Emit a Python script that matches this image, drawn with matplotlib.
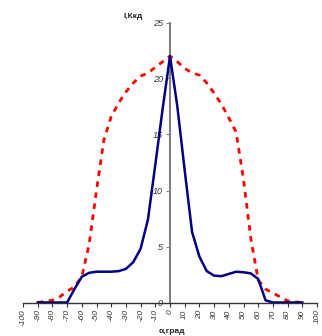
import matplotlib
matplotlib.use("Agg")
import matplotlib.pyplot as plt

plt.rcParams['font.family'] = ['Liberation Sans', 'DejaVu Sans']

angles = [-90, -85, -80, -75, -70, -65, -60, -55, -50, -45, -40, -35, -30, -25, -20, -15, -10, -5,
          0, 5, 10, 15, 20, 25, 30, 35, 40, 45, 50, 55, 60, 65, 70, 75, 80, 85, 90]
intensity_solid = [0, 0, 0, 0, 0, 1.2, 2.3, 2.65, 2.75, 2.75, 2.75, 2.8, 3.0, 3.6, 4.8, 7.4, 12.3, 17.3,
                   22.0, 17.5, 11.8, 6.3, 4.1, 2.8, 2.4, 2.35, 2.55, 2.75, 2.7, 2.6, 2.1, 0.2, 0, 0, 0, 0, 0]
intensity_dashed = [0, 0.1, 0.2, 0.5, 1.0, 1.4, 2.3, 5.2, 10.0, 14.5, 16.6, 17.8, 18.8, 19.6, 20.2, 20.5, 21.0, 21.5,
                    22.0, 21.5, 20.9, 20.5, 20.3, 19.6, 18.7, 17.7, 16.5, 15.2, 11.0, 5.7, 2.0, 1.2, 0.85, 0.5, 0.15, 0.05, 0]
xticks = list(range(-100, 101, 10))
yticks = [0, 5, 10, 15, 20, 25]

W, H = 322, 336
fig = plt.figure(figsize=(W / 100, H / 100), dpi=100)
ax = fig.add_axes([23 / W, 33.5 / H, 294 / W, 280 / H])

ax.plot(angles, intensity_dashed, color='#ff0000', lw=2.0, linestyle=(0, (2.0, 2.0)), zorder=3)
ax.plot(angles, intensity_solid, color='#000080', lw=1.8, zorder=4)

ax.set_xlim(-100, 100)
ax.set_ylim(0, 25)
ax.spines['top'].set_visible(False)
ax.spines['right'].set_visible(False)
ax.spines['left'].set_position(('data', 0))
ax.spines['left'].set_color('#808080')
ax.spines['left'].set_linewidth(1.5)
ax.spines['bottom'].set_color('#333333')
ax.spines['bottom'].set_linewidth(1.0)

ax.set_xticks(xticks)
ax.set_xticklabels([str(t) for t in xticks], rotation=90, fontsize=6, style='italic', color='#333333')
ax.set_yticks(yticks)
ax.set_yticklabels([str(t) for t in yticks], fontsize=6.5, style='italic', color='#333333')
ax.tick_params(axis='x', direction='out', length=3, width=0.8, color='#333333', pad=2)
ax.tick_params(axis='y', direction='out', length=3, width=0.8, color='#808080', pad=2)

fig.text(133 / W, 1 - 17 / H, 'I,Ккд', fontsize=6, fontweight='bold', ha='center', va='center', color='#222222')
fig.text(172 / W, 1 / H, 'α,град', fontsize=6, fontweight='bold', ha='center', va='bottom', color='#222222')

fig.savefig('out.png', dpi=100)
